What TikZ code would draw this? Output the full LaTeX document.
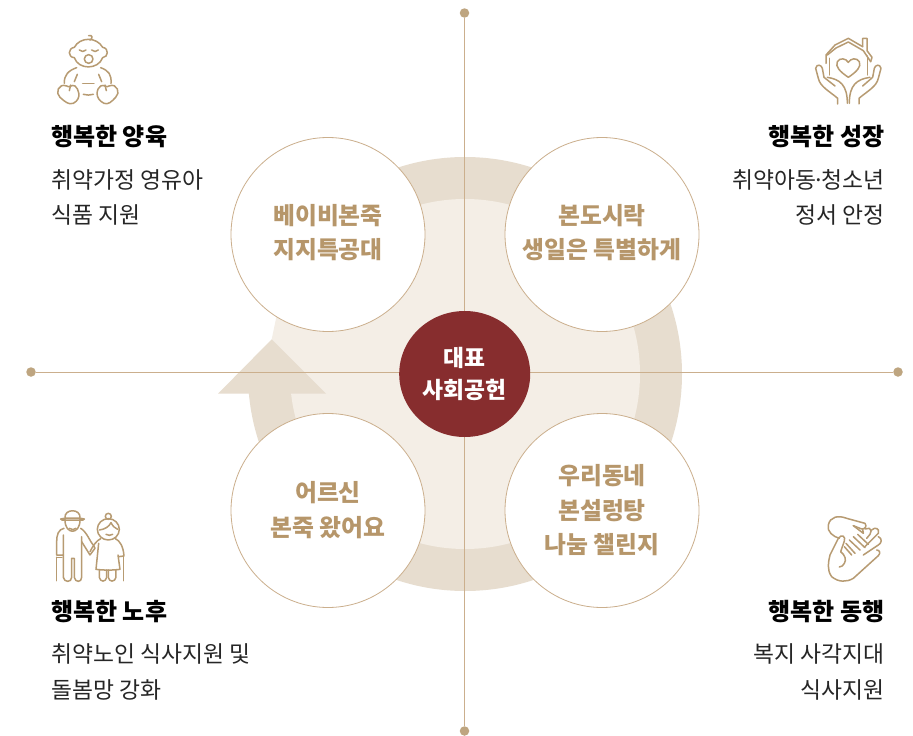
\documentclass[tikz,border=0pt]{standalone}
\usepackage{fontspec}
\setmainfont{Noto Sans CJK KR}
\usetikzlibrary{shapes.geometric}
\definecolor{tan}{HTML}{B79B72}
\definecolor{ringc}{HTML}{E7DDCF}
\definecolor{diskc}{HTML}{F4EEE6}
\definecolor{wine}{HTML}{872D2E}
\definecolor{linec}{HTML}{CBAF8D}
\definecolor{txtc}{HTML}{B6966A}
\tikzset{
 axis/.style={linec,line width=0.9pt},
 dot/.style={circle,fill=tan!90!white,minimum size=9.5pt,inner sep=0},
 petal/.style={circle,draw=linec,fill=white,line width=0.8pt,minimum size=194pt,inner sep=0},
 ptext/.style={font=\fontsize{23.8}{34.5}\selectfont\bfseries,text=txtc,align=center},
 head/.style={font=\fontsize{24}{26}\selectfont\bfseries,text=black,inner sep=0},
 sub/.style={font=\fontsize{22.8}{35.5}\selectfont,text=black!85,inner sep=0},
 ic/.style={draw=tan,line width=1.5pt,line cap=round,line join=round,fill=none},
}
\begin{document}
\begin{tikzpicture}[x=1pt,y=-1pt]
\useasboundingbox (0,0) rectangle (913,736);
\fill[white] (0,0) rectangle (913,736);
% ring
\fill[ringc] (465,374) circle (217);
\fill[white] (235,270) rectangle (296,393);
\fill[diskc] (465,374) circle (175);
\fill[diskc] (271.7,339.3) -- (277,314) -- (320,314) -- (320,393) -- cycle;
\fill[ringc] (271.7,339.3) -- (326,393.7) -- (218,393.7) -- cycle;
% axes
\node[dot] (dt) at (464.5,13) {};
\node[dot] (db) at (464.5,731) {};
\node[dot] (dl) at (31,372) {};
\node[dot] (dr) at (898,372) {};
\draw[axis] (dt) -- (db);
\draw[axis] (dl) -- (dr);
% petals
\node[petal] (tl) at (328,234.5) {};
\node[petal] (tr) at (602,234.5) {};
\node[petal] (bl) at (328,510.5) {};
\node[petal] (br) at (602,510.5) {};
\node[ptext] at (328,232.5) {베이비본죽\\지지특공대};
\node[ptext] at (602,232.5) {본도시락\\생일은 특별하게};
\node[ptext] at (328,510) {어르신\\본죽 왔어요};
\node[ptext] at (602,510.5) {우리동네\\본설렁탕\\나눔 챌린지};
\node[ellipse,fill=wine,minimum width=131pt,minimum height=126pt,inner sep=0,text=white,align=center,font=\fontsize{22.8}{32}\selectfont\bfseries] (c) at (464.7,374) {\raisebox{1pt}{대표}\\\raisebox{1pt}{사회공헌}};
% texts
\node[head,anchor=west] at (51,136.5) {행복한 양육};
\node[sub,anchor=north west,align=left] at (51,169) {취약가정 영유아\\식품 지원};
\node[head,anchor=east] at (884.5,136.5) {행복한 성장};
\node[sub,anchor=north east,align=right] at (884.5,169) {취약아동{\kern-4pt}·{\kern-4pt}청소년\\정서 안정};
\node[head,anchor=west] at (51,611.5) {행복한 노후};
\node[sub,anchor=north west,align=left] at (51,643.5) {취약노인 식사지원 및\\돌봄망 강화};
\node[head,anchor=east] at (884.5,611.5) {행복한 동행};
\node[sub,anchor=north east,align=right] at (884.5,643.5) {복지 사각지대\\식사지원};
% baby icon (zoom 3x from 30,20)
\begin{scope}[shift={(30,20)},x=0.3333pt,y=-0.3333pt]
\draw[ic] (133,82) .. controls (150,50) and (200,50) .. (218,82) .. controls (238,85) and (235,112) .. (218,113) .. controls (205,150) and (145,150) .. (133,113) .. controls (113,112) and (113,85) .. (133,82) -- cycle;
\draw[ic] (176,47) .. controls (187,43) and (190,55) .. (180,60);
\draw[ic] (148,90) .. controls (155,96) and (162,96) .. (168,90);
\draw[ic] (185,90) .. controls (192,96) and (199,96) .. (205,90);
\draw[ic] (176,117) ellipse (13 and 13);
\draw[ic] (140,143) .. controls (115,152) and (102,165) .. (103,190);
\draw[ic] (212,143) .. controls (237,152) and (245,165) .. (243,190);
\draw[ic] (142,163) -- (133,185);
\draw[ic] (206,163) -- (215,185);
\draw[ic] (158,190) -- (192,190);
\draw[ic] (160,223) .. controls (170,226) and (180,226) .. (190,223);
\draw[ic] (110,198) .. controls (85,188) and (75,220) .. (90,232) .. controls (105,245) and (115,255) .. (130,250) .. controls (158,235) and (145,205) .. (135,198) .. controls (125,192) and (118,205) .. (110,198) -- cycle;
\draw[ic] (237,198) .. controls (262,188) and (272,220) .. (257,232) .. controls (245,245) and (235,255) .. (222,250) .. controls (192,235) and (200,205) .. (212,198) .. controls (222,192) and (230,205) .. (237,198) -- cycle;
\draw[ic] (122,195) -- (118,212);
\draw[ic] (225,195) -- (229,212);
\end{scope}
% house hands (zoom 3x from 790,20)
\begin{scope}[shift={(790,20)},x=0.3333pt,y=-0.3333pt]
\draw[ic] (108,130) -- (108,105) -- (135,75) -- (175,55) -- (218,80);
\draw[ic] (112,105) -- (138,84) -- (175,66) -- (220,92) -- (242,125);
\draw[ic] (218,80) -- (218,55) -- (231,55) -- (231,92) -- (246,112) -- (242,125);
\draw[ic] (118,115) -- (118,165);
\draw[ic] (232,108) -- (232,165);
\draw[ic] (175,172) .. controls (150,155) and (135,140) .. (142,125) .. controls (150,112) and (168,115) .. (175,127) .. controls (182,115) and (200,112) .. (208,125) .. controls (215,140) and (200,155) .. (175,172) -- cycle;
\draw[ic] (143,252) -- (143,235) .. controls (120,215) and (90,200) .. (85,175) -- (77,145) .. controls (80,130) and (95,135) .. (97,145) -- (102,172) -- (135,198);
\draw[ic] (207,252) -- (207,235) .. controls (230,215) and (260,200) .. (265,175) -- (273,145) .. controls (270,130) and (255,135) .. (253,145) -- (248,172) -- (218,198);
\draw[ic] (112,172) .. controls (150,178) and (172,195) .. (172,250);
\draw[ic] (240,172) .. controls (200,178) and (178,195) .. (178,250);
\end{scope}
% elders (zoom 3x from 40,500)
\begin{scope}[shift={(40,500)},x=0.3333pt,y=-0.3333pt]
\draw[ic] (62,57) .. controls (75,53) and (120,53) .. (133,57) .. controls (130,60) and (127,62) .. (122,60) -- (73,60) .. controls (68,62) and (65,60) .. (62,57) -- cycle;
\draw[ic] (75,54) .. controls (72,25) and (123,25) .. (120,54);
\draw[ic] (75,60) .. controls (75,105) and (120,105) .. (120,60);
\draw[ic] (88,85) .. controls (95,90) and (102,90) .. (108,85);
\draw[ic] (72,85) .. controls (55,88) and (50,105) .. (50,125) -- (50,165) -- (70,165) -- (70,105);
\draw[ic] (122,85) .. controls (140,95) and (150,125) .. (160,135) -- (165,145) -- (150,165) -- (125,125);
\draw[ic] (70,165) -- (70,232) .. controls (72,248) and (95,248) .. (95,232) -- (95,175) -- (103,175) -- (103,232) .. controls (105,248) and (125,248) .. (125,232) -- (125,110);
\draw[ic] (50,172) -- (50,242);
\draw[ic] (50,172) -- (66,172);
\draw[ic] (205,49) circle (9);
\draw[ic] (205,88) ellipse (33 and 32);
\draw[ic] (178,90) .. controls (195,88) and (207,80) .. (213,68) .. controls (218,78) and (225,85) .. (233,88);
\draw[ic] (198,103) .. controls (205,107) and (212,107) .. (218,103);
\draw[ic] (182,116) .. controls (170,122) and (160,135) .. (150,155);
\draw[ic] (176,130) -- (168,208) .. controls (190,211) and (220,211) .. (240,208) -- (234,165);
\draw[ic] (226,116) .. controls (240,122) and (250,140) .. (252,168) -- (236,170);
\draw[ic] (178,210) -- (178,232) .. controls (180,247) and (198,247) .. (200,232) -- (200,210);
\draw[ic] (205,210) -- (205,232) .. controls (207,247) and (225,247) .. (228,232) -- (228,210);
\draw[ic] (250,172) -- (250,242);
\end{scope}
% hands (zoom 3x from 810,505)
\begin{scope}[shift={(810,505)},x=0.3333pt,y=-0.3333pt]
\draw[ic] (88,100) .. controls (70,95) and (50,80) .. (55,60) .. controls (60,35) and (85,30) .. (110,40) -- (165,55) .. controls (172,65) and (165,72) .. (155,72) -- (130,62);
\draw[ic] (130,62) -- (160,85) -- (158,72);
\draw[ic] (165,72) -- (178,70) .. controls (185,72) and (185,82) .. (180,88) -- (170,100);
\draw[ic] (185,75) .. controls (195,65) and (210,70) .. (205,85) -- (165,125);
\draw[ic] (205,95) .. controls (218,100) and (215,115) .. (205,120) -- (160,150);
\draw[ic] (200,135) .. controls (210,135) and (212,145) .. (205,152) -- (130,220) .. controls (110,232) and (85,232) .. (65,215) .. controls (50,195) and (55,170) .. (60,150) -- (85,100) .. controls (95,85) and (108,95) .. (103,108) -- (92,140);
\draw[ic] (92,140) .. controls (105,150) and (110,165) .. (103,175) .. controls (100,182) and (95,185) .. (88,186);
\draw[ic] (108,115) -- (135,145);
\draw[ic] (118,105) -- (150,135);
\draw[ic] (130,95) -- (165,128);
\draw[ic] (143,88) -- (175,118);
\draw[ic] (103,125) -- (125,150);
\end{scope}
\end{tikzpicture}
\end{document}
